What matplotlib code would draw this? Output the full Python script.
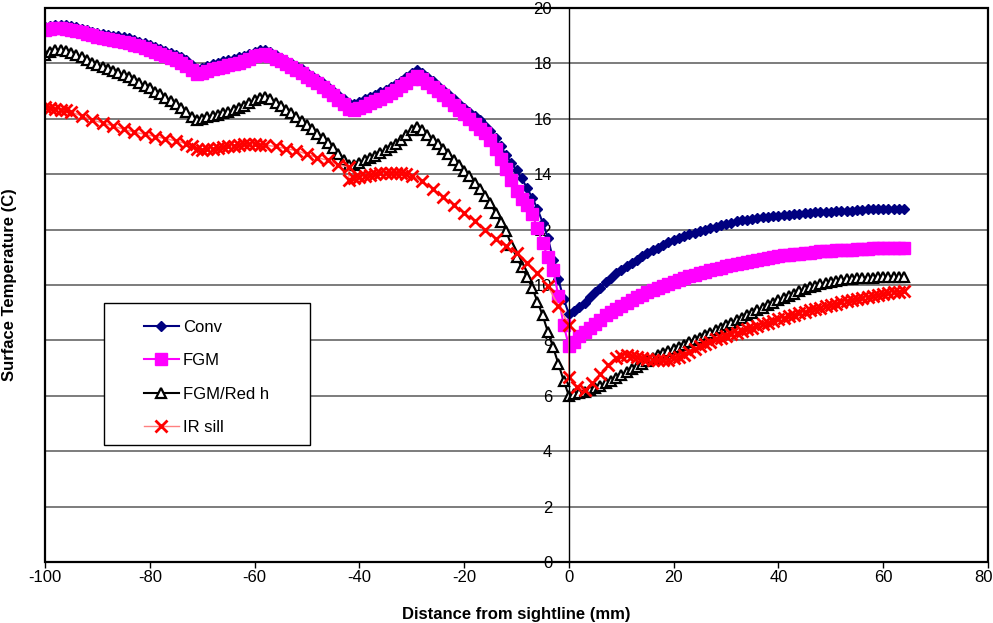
import numpy as np
import matplotlib
matplotlib.use('Agg')
import matplotlib.pyplot as plt
from matplotlib.patches import Rectangle
from matplotlib.transforms import ScaledTranslation

plt.rcParams['font.family'] = ['Liberation Sans', 'DejaVu Sans']
plt.rcParams['axes.unicode_minus'] = False

# model results, 1 mm spacing from -100 to 64 mm
dist = np.arange(-100, 65)

conv = [
    19.30, 19.35, 19.38, 19.38, 19.37, 19.35, 19.30, 19.25, 19.20, 19.15,
    19.10, 19.07, 19.03, 19.00, 18.98, 18.95, 18.90, 18.85, 18.78, 18.72,
    18.66, 18.60, 18.52, 18.45, 18.38, 18.30, 18.22, 18.12, 17.95, 17.80,
    17.85, 17.92, 17.98, 18.03, 18.08, 18.12, 18.17, 18.22, 18.28, 18.35,
    18.42, 18.47, 18.48, 18.40, 18.30, 18.20, 18.10, 18.00, 17.90, 17.78,
    17.65, 17.55, 17.42, 17.30, 17.15, 17.00, 16.85, 16.70, 16.58, 16.55,
    16.62, 16.70, 16.78, 16.85, 16.95, 17.05, 17.15, 17.25, 17.38, 17.50,
    17.65, 17.75, 17.65, 17.50, 17.35, 17.20, 17.05, 16.88, 16.70, 16.55,
    16.40, 16.25, 16.10, 15.95, 15.75, 15.55, 15.30, 15.00, 14.70, 14.40,
    14.15, 13.85, 13.50, 13.15, 12.75, 12.25, 11.70, 10.90, 10.20, 9.50,
    8.95, 9.05, 9.20, 9.35, 9.55, 9.75, 9.90, 10.10, 10.25, 10.42,
    10.55, 10.68, 10.80, 10.92, 11.05, 11.15, 11.25, 11.35, 11.45, 11.55,
    11.63, 11.70, 11.77, 11.83, 11.89, 11.95, 12.00, 12.05, 12.10, 12.15,
    12.20, 12.25, 12.30, 12.33, 12.36, 12.39, 12.42, 12.44, 12.46, 12.48,
    12.50, 12.52, 12.54, 12.56, 12.58, 12.60, 12.61, 12.62, 12.63, 12.64,
    12.65, 12.66, 12.66, 12.67, 12.68, 12.70, 12.72, 12.73, 12.73, 12.74,
    12.74, 12.74, 12.75, 12.75, 12.75,
]

fgm = [
    19.20, 19.25, 19.27, 19.27, 19.25, 19.22, 19.17, 19.12, 19.07, 19.02,
    18.97, 18.93, 18.89, 18.85, 18.82, 18.78, 18.73, 18.68, 18.62, 18.55,
    18.48, 18.42, 18.35, 18.27, 18.20, 18.12, 18.03, 17.92, 17.75, 17.60,
    17.65, 17.72, 17.78, 17.83, 17.88, 17.93, 17.98, 18.03, 18.10, 18.17,
    18.25, 18.32, 18.35, 18.27, 18.17, 18.07, 17.97, 17.87, 17.76, 17.64,
    17.52, 17.40, 17.28, 17.15, 17.00, 16.85, 16.68, 16.52, 16.35, 16.32,
    16.40, 16.48, 16.56, 16.64, 16.73, 16.83, 16.93, 17.05, 17.17, 17.30,
    17.45, 17.55, 17.45, 17.30, 17.15, 17.00, 16.85, 16.68, 16.50, 16.33,
    16.17, 16.00, 15.82, 15.62, 15.50, 15.23, 14.90, 14.55, 14.20, 13.80,
    13.40, 13.10, 12.90, 12.55, 12.05, 11.50, 11.00, 10.55, 9.60, 8.55,
    7.80, 7.95, 8.15, 8.30, 8.45, 8.60, 8.75, 8.90, 9.02, 9.14,
    9.25, 9.36, 9.46, 9.56, 9.65, 9.74, 9.82, 9.90, 9.98, 10.05,
    10.12, 10.19, 10.25, 10.31, 10.37, 10.43, 10.48, 10.53, 10.58, 10.63,
    10.68, 10.72, 10.76, 10.80, 10.84, 10.88, 10.92, 10.95, 10.98, 11.01,
    11.04, 11.07, 11.09, 11.11, 11.13, 11.15, 11.17, 11.19, 11.21, 11.22,
    11.24, 11.25, 11.26, 11.27, 11.28, 11.29, 11.30, 11.31, 11.32, 11.32,
    11.33, 11.33, 11.34, 11.34, 11.34,
]

fgm_red_h = [
    18.30, 18.42, 18.48, 18.50, 18.45, 18.38, 18.30, 18.22, 18.12, 18.02,
    17.94, 17.87, 17.80, 17.72, 17.65, 17.58, 17.50, 17.40, 17.30, 17.20,
    17.10, 16.98, 16.88, 16.76, 16.64, 16.52, 16.38, 16.24, 16.08, 15.96,
    16.00, 16.05, 16.10, 16.15, 16.20, 16.26, 16.32, 16.40, 16.48, 16.58,
    16.68, 16.76, 16.80, 16.70, 16.58, 16.45, 16.33, 16.20, 16.07, 15.92,
    15.77, 15.62, 15.46, 15.30, 15.12, 14.93, 14.72, 14.52, 14.35, 14.35,
    14.42, 14.50, 14.58, 14.66, 14.76, 14.86, 14.97, 15.10, 15.25, 15.42,
    15.60, 15.70, 15.60, 15.42, 15.25, 15.08, 14.90, 14.72, 14.52, 14.32,
    14.12, 13.92, 13.70, 13.46, 13.22, 12.96, 12.60, 12.28, 11.95, 11.45,
    11.00, 10.65, 10.30, 9.90, 9.40, 8.90, 8.30, 7.75, 7.15, 6.55,
    6.00, 6.05, 6.10, 6.15, 6.20, 6.28, 6.36, 6.45, 6.55, 6.65,
    6.75, 6.85, 6.95, 7.05, 7.15, 7.26, 7.37, 7.48, 7.56, 7.63,
    7.70, 7.77, 7.85, 7.93, 8.01, 8.10, 8.19, 8.28, 8.37, 8.46,
    8.55, 8.64, 8.73, 8.82, 8.91, 9.00, 9.09, 9.18, 9.27, 9.36,
    9.45, 9.53, 9.61, 9.69, 9.77, 9.85, 9.91, 9.97, 10.02, 10.06,
    10.10, 10.14, 10.17, 10.20, 10.22, 10.24, 10.25, 10.26, 10.27, 10.28,
    10.28, 10.29, 10.29, 10.30, 10.30,
]

# IR measurement, uneven spacing
ir_dist = [
    -100, -99, -98, -97, -96, -95,
    -93, -91, -89, -87, -85, -83, -81, -79, -77, -75, -73,
    -72, -71, -70, -69, -68, -67, -66, -65, -64, -63, -62, -61, -60, -59, -58,
    -56, -54, -52, -50, -48, -46, -44, -42,
    -42, -41, -40, -39, -38, -37, -36, -35, -34, -33, -32, -31, -30,
    -28, -26, -24, -22, -20, -18, -16, -14, -12, -10, -8, -6, -4, -2, 0,
    0, 1.5, 3, 4.5, 6, 7.5, 9,
    10, 11, 12, 13, 14, 15, 16, 17, 18, 19,
    20, 21, 22, 23, 24, 25, 26, 27, 28, 29,
    30, 31, 32, 33, 34, 35, 36, 37, 38, 39,
    40, 41, 42, 43, 44, 45, 46, 47, 48, 49,
    50, 51, 52, 53, 54, 55, 56, 57, 58, 59,
    60, 61, 62, 63, 64,
]
ir_sill = [
    16.43, 16.38, 16.35, 16.33, 16.30, 16.25,
    16.10, 15.96, 15.85, 15.74, 15.62, 15.52, 15.44, 15.36, 15.28, 15.20, 15.10,
    15.02, 14.92, 14.88, 14.90, 14.92, 14.95, 14.97, 15.00, 15.03, 15.06, 15.08, 15.08, 15.08, 15.06, 15.05,
    15.00, 14.92, 14.85, 14.72, 14.60, 14.50, 14.35, 14.25,
    13.80, 13.85, 13.90, 13.95, 13.98, 14.01, 14.04, 14.05, 14.06, 14.05, 14.03, 14.00, 13.95,
    13.75, 13.48, 13.18, 12.90, 12.60, 12.30, 12.00, 11.66, 11.40, 11.15, 10.80, 10.43, 9.95, 9.25, 8.56,
    6.68, 6.32, 6.20, 6.45, 6.80, 7.10, 7.38,
    7.45, 7.47, 7.44, 7.40, 7.36, 7.32, 7.30, 7.29, 7.29, 7.31,
    7.35, 7.40, 7.48, 7.58, 7.68, 7.78, 7.88, 7.96, 8.04, 8.10,
    8.16, 8.22, 8.28, 8.34, 8.40, 8.46, 8.52, 8.58, 8.64, 8.70,
    8.76, 8.82, 8.88, 8.93, 8.98, 9.03, 9.08, 9.13, 9.18, 9.23,
    9.28, 9.33, 9.37, 9.41, 9.45, 9.49, 9.53, 9.57, 9.61, 9.64,
    9.67, 9.70, 9.73, 9.76, 9.79,
]

xticks = list(range(-100, 81, 20))
yticks = list(range(0, 21, 2))

fig = plt.figure(figsize=(9.93, 6.23), dpi=100)
ax = fig.add_axes([45 / 993, 61 / 623, 943 / 993, 554 / 623])

# horizontal gridlines behind the data
ax.hlines(yticks[1:-1], -100, 80, colors='#666666', lw=1.2, zorder=0.5)

ax.plot(dist, conv, color='#000080', lw=1.5, marker='D', ms=5,
        mfc='#000080', mec='#000080', label='Conv')
ax.plot(dist, fgm, color='#FF00FF', lw=1.5, marker='s', ms=8,
        mfc='#FF00FF', mec='#FF00FF', label='FGM')
ax.plot(dist, fgm_red_h, color='black', lw=1.5, marker='^', ms=7,
        mfc='white', mec='black', mew=1.6, label='FGM/Red h')
ax.plot(ir_dist, ir_sill, color='#FF8080', lw=1, marker='x', ms=8,
        mec='#FF0000', mew=2, label='IR sill')

ax.set_xlim(-100, 80)
ax.set_ylim(0, 20)
ax.set_xticks(xticks)
ax.set_yticks(yticks)

# y axis crosses at x = 0, plot area gets its own frame
ax.spines['left'].set_position(('data', 0))
ax.spines['left'].set_linewidth(1)
for s in ['top', 'right', 'bottom']:
    ax.spines[s].set_visible(False)
ax.add_patch(Rectangle((0, 0), 1, 1, transform=ax.transAxes, fill=False,
                       lw=1.6, ec='black', clip_on=False, zorder=3))

ax.tick_params(axis='x', direction='out', length=4, width=1, labelsize=12, pad=2)
ax.tick_params(axis='y', length=0, labelsize=12, pad=12)

ax.set_xlabel('Distance from sightline (mm)', fontsize=12, fontweight='bold')
ax.set_ylabel('Surface Temperature (C)', fontsize=12, fontweight='bold')
ax.yaxis.set_label_coords(-0.030, 0.5)
ax.xaxis.set_label_coords(0.5, -0.082)

# last tick label sits against the figure edge
last = ax.get_xticklabels()[-1]
last.set_horizontalalignment('right')
last.set_transform(last.get_transform() + ScaledTranslation(5 / 100, 0, fig.dpi_scale_trans))

# legend box
ax.add_patch(Rectangle((0.0626, 0.211), 0.2186, 0.2565, transform=ax.transAxes,
                       fc='white', ec='black', lw=1, zorder=4))
leg = ax.legend(loc='upper left', bbox_to_anchor=(0.096, 0.452), frameon=False,
                borderpad=0, fontsize=12, handlelength=2.1, handletextpad=0.25,
                labelspacing=1.1)
leg.set_zorder(5)

fig.savefig('out.png', dpi=100)
